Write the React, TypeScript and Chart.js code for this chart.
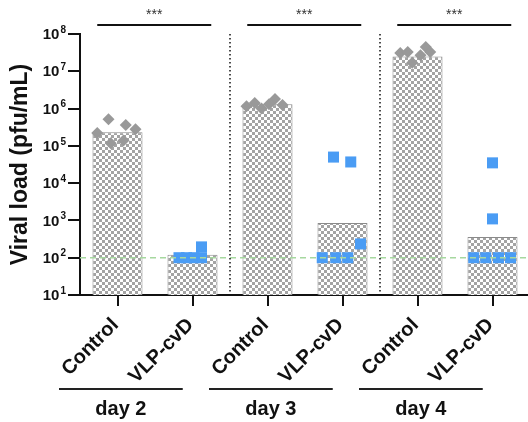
import React, { useEffect, useRef } from "react";
import { Chart, registerables } from "chart.js";

Chart.register(...registerables);

// ---------- data ----------
const categories = ["Control", "VLP-cvD", "Control", "VLP-cvD", "Control", "VLP-cvD"];
const groupLabels = ["day 2", "day 3", "day 4"];
const yTickValues = [1e1, 1e2, 1e3, 1e4, 1e5, 1e6, 1e7, 1e8];
const barValues = [2.3e5, 120, 1.3e6, 850, 2.5e7, 360];
const significanceLabels = ["***", "***", "***"];
const detectionLimit = 100;

// control (diamonds)
const day2Control = [2.2e5, 5.2e5, 1.17e5, 1.4e5, 3.6e5, 2.8e5];
const day2ControlJitter = [-0.27, -0.12, -0.09, 0.08, 0.11, 0.24];
const day3Control = [1.15e6, 1.4e6, 1.0e6, 1.3e6, 1.8e6, 1.25e6];
const day3ControlJitter = [-0.28, -0.17, -0.08, 0.02, 0.1, 0.2];
const day4Control = [3.1e7, 3.3e7, 1.7e7, 2.7e7, 4.5e7, 3.3e7];
const day4ControlJitter = [-0.23, -0.13, -0.07, 0.04, 0.11, 0.17];

// VLP-cvD (squares)
const day2Vlp = [100, 100, 100, 100, 195];
const day2VlpJitter = [-0.18, -0.08, 0.02, 0.12, 0.12];
const day3Vlp = [5.0e4, 3.7e4, 234, 100, 100, 100];
const day3VlpJitter = [-0.12, 0.11, 0.24, -0.27, -0.09, 0.07];
const day4Vlp = [3.5e4, 1.1e3, 100, 100, 100, 100];
const day4VlpJitter = [0, 0, -0.25, -0.09, 0.08, 0.24];

const FONT = "Arial, 'Liberation Sans', Helvetica, sans-serif";

function toPoints(center: number, values: number[], jitter: number[]) {
  return values.map((v, i) => ({ x: center + jitter[i], y: v }));
}

function makePattern(): CanvasPattern | string {
  const c = document.createElement("canvas");
  c.width = 6;
  c.height = 6;
  const g = c.getContext("2d");
  if (!g) return "#bbb";
  g.fillStyle = "#ffffff";
  g.fillRect(0, 0, 6, 6);
  g.fillStyle = "#a3a3a3";
  g.fillRect(0, 0, 3, 3);
  g.fillRect(3, 3, 3, 3);
  const p = g.createPattern(c, "repeat");
  return p || "#bbb";
}

const overlayPlugin = {
  id: "overlay",
  afterDatasetsDraw(chart: any) {
    const ctx = chart.ctx as CanvasRenderingContext2D;
    const { left, right, top, bottom } = chart.chartArea;
    const ys = chart.scales.y;
    const xs = chart.scales.xs;
    ctx.save();
    // limit of detection
    const yl = ys.getPixelForValue(detectionLimit);
    ctx.strokeStyle = "#a6d89f";
    ctx.lineWidth = 1.5;
    ctx.setLineDash([6, 4]);
    ctx.beginPath();
    ctx.moveTo(left, yl);
    ctx.lineTo(right, yl);
    ctx.stroke();
    // dotted separators
    ctx.setLineDash([1.5, 2.5]);
    ctx.strokeStyle = "#111";
    ctx.lineWidth = 1.5;
    for (let g = 1; g < groupLabels.length; g++) {
      const x = Math.round(xs.getPixelForValue(2 * g - 0.5));
      ctx.beginPath();
      ctx.moveTo(x, top);
      ctx.lineTo(x, bottom);
      ctx.stroke();
    }
    ctx.restore();
  },
  afterDraw(chart: any) {
    const ctx = chart.ctx as CanvasRenderingContext2D;
    const { left, top, bottom } = chart.chartArea;
    const ys = chart.scales.y;
    const xs = chart.scales.xs;
    ctx.save();
    // significance bars
    significanceLabels.forEach((lab, g) => {
      const x1 = xs.getPixelForValue(2 * g - 0.27);
      const x2 = xs.getPixelForValue(2 * g + 1.25);
      const yb = top - 9;
      ctx.strokeStyle = "#111";
      ctx.lineWidth = 2;
      ctx.beginPath();
      ctx.moveTo(x1, yb);
      ctx.lineTo(x2, yb);
      ctx.stroke();
      ctx.fillStyle = "#333";
      ctx.font = `14px ${FONT}`;
      ctx.textAlign = "center";
      ctx.textBaseline = "middle";
      ctx.fillText(lab, (x1 + x2) / 2, yb - 10);
    });
    // y tick labels with superscripts
    yTickValues.forEach((v) => {
      const y = ys.getPixelForValue(v);
      const exp = String(Math.round(Math.log10(v)));
      ctx.fillStyle = "#111";
      ctx.textBaseline = "middle";
      ctx.textAlign = "right";
      ctx.font = `bold 10px ${FONT}`;
      const ew = ctx.measureText(exp).width;
      const xr = left - 14;
      ctx.fillText(exp, xr, y - 4);
      ctx.font = `bold 15px ${FONT}`;
      ctx.fillText("10", xr - ew - 1, y + 1);
    });
    // y title
    ctx.save();
    ctx.translate(21, (top + bottom) / 2);
    ctx.rotate(-Math.PI / 2);
    ctx.font = `bold 23px ${FONT}`;
    ctx.fillStyle = "#111";
    ctx.textAlign = "center";
    ctx.textBaseline = "middle";
    ctx.fillText("Viral load (pfu/mL)", 0, 0);
    ctx.restore();
    // rotated category labels
    categories.forEach((lab, i) => {
      const x = xs.getPixelForValue(i);
      ctx.save();
      ctx.translate(x - 2, bottom + 27);
      ctx.rotate(-Math.PI / 4);
      ctx.font = `bold 20px ${FONT}`;
      ctx.fillStyle = "#111";
      ctx.textAlign = "right";
      ctx.textBaseline = "middle";
      ctx.fillText(lab, 0, 0);
      ctx.restore();
    });
    // group lines + labels
    groupLabels.forEach((lab, g) => {
      const x1 = xs.getPixelForValue(2 * g - 0.78);
      const x2 = xs.getPixelForValue(2 * g + 0.87);
      const yg = bottom + 94;
      ctx.strokeStyle = "#222";
      ctx.lineWidth = 2;
      ctx.beginPath();
      ctx.moveTo(x1, yg);
      ctx.lineTo(x2, yg);
      ctx.stroke();
      ctx.font = `bold 20px ${FONT}`;
      ctx.fillStyle = "#111";
      ctx.textAlign = "center";
      ctx.textBaseline = "middle";
      ctx.fillText(lab, (x1 + x2) / 2, yg + 20);
    });
    ctx.restore();
  },
};

export default function App() {
  const ref = useRef<HTMLCanvasElement | null>(null);
  useEffect(() => {
    if (!ref.current) return;
    const pattern = makePattern();
    const controlPts = [
      ...toPoints(0, day2Control, day2ControlJitter),
      ...toPoints(2, day3Control, day3ControlJitter),
      ...toPoints(4, day4Control, day4ControlJitter),
    ];
    const vlpPts = [
      ...toPoints(1, day2Vlp, day2VlpJitter),
      ...toPoints(3, day3Vlp, day3VlpJitter),
      ...toPoints(5, day4Vlp, day4VlpJitter),
    ];
    const chart = new Chart(ref.current, {
      type: "bar",
      data: {
        labels: categories,
        datasets: [
          {
            type: "scatter",
            data: vlpPts,
            xAxisID: "xs",
            yAxisID: "y",
            pointStyle: "rect",
            pointRadius: 7.8,
            backgroundColor: "#4a9cf4",
            borderWidth: 0,
            order: 0,
          } as any,
          {
            type: "scatter",
            data: controlPts,
            xAxisID: "xs",
            yAxisID: "y",
            pointStyle: "rectRot",
            pointRadius: 6,
            backgroundColor: "#999999",
            borderWidth: 0,
            order: 1,
          } as any,
          {
            type: "bar",
            data: barValues,
            xAxisID: "x",
            yAxisID: "y",
            backgroundColor: pattern as any,
            borderColor: "#8a8a8a",
            borderWidth: 1,
            barPercentage: 0.667,
            categoryPercentage: 1,
            grouped: false,
            order: 2,
          } as any,
        ],
      },
      options: {
        responsive: false,
        animation: false,
        layout: { padding: { top: 34, right: 10, left: 0, bottom: 0 } },
        plugins: { legend: { display: false }, tooltip: { enabled: false } },
        scales: {
          x: {
            type: "category",
            offset: true,
            grid: {
              offset: false,
              drawOnChartArea: false,
              drawTicks: true,
              tickLength: 11,
              color: "#111",
              lineWidth: 2,
            },
            border: { display: true, color: "#111", width: 2 },
            ticks: { display: false },
            afterFit: (s: any) => {
              s.height = 127;
            },
          },
          xs: {
            type: "linear",
            display: false,
            offset: false,
            bounds: "data",
            grid: { offset: false },
            min: -0.5,
            max: 5.5,
          },
          y: {
            type: "logarithmic",
            min: 10,
            max: 1e8,
            grid: {
              drawOnChartArea: false,
              drawTicks: true,
              tickLength: 12,
              color: "#111",
              lineWidth: 2,
            },
            border: { display: true, color: "#111", width: 2 },
            ticks: { display: false },
            afterBuildTicks: (s: any) => {
              s.ticks = yTickValues.map((v) => ({ value: v }));
            },
            afterFit: (s: any) => {
              s.width = 80;
            },
          },
        },
      } as any,
      plugins: [overlayPlugin],
    });
    return () => chart.destroy();
  }, []);
  return (
    <div
      style={{
        position: "fixed",
        left: 0,
        top: 0,
        width: 528,
        height: 422,
        overflow: "hidden",
        background: "#fff",
      }}
    >
      <canvas ref={ref} width={540} height={422} style={{ display: "block" }} />
    </div>
  );
}
